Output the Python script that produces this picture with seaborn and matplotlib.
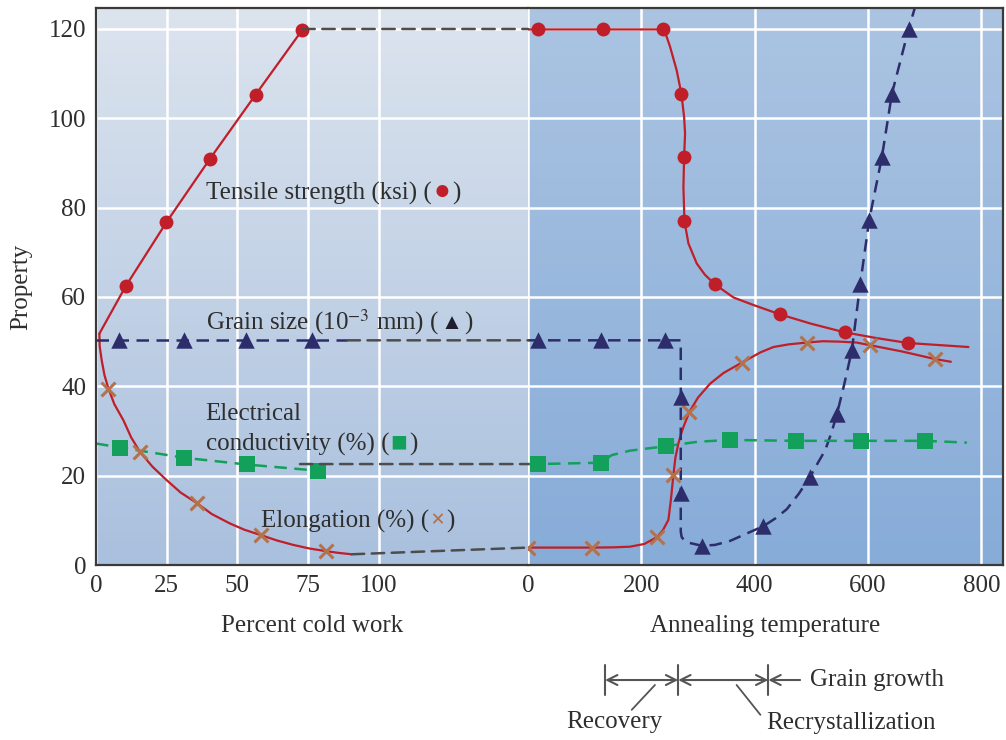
"""
Cold work and annealing: property changes (recreated figure)
"""
import matplotlib
matplotlib.use('Agg')
import matplotlib.pyplot as plt
import matplotlib.transforms as mtransforms
from matplotlib.colors import LinearSegmentedColormap
from matplotlib.patches import ConnectionPatch
import seaborn as sns
import numpy as np

# ---------------- data ----------------
# left panel: percent cold work
cw_tensile_x = [1.2, 10.5, 24.9, 40.4, 56.5, 72.9]
cw_tensile_y = [51.8, 62.4, 76.7, 91.0, 105.3, 119.7]

cw_elong_x = [1.2, 1.3, 2.0, 3.0, 4.4, 6.5, 9.7, 12.5, 15.6, 20.0, 25.0, 30.0,
              35.6, 41.0, 47.4, 52.5, 58.3, 64.0, 69.8, 75.5, 81.4, 86.0, 90.5]
cw_elong_y = [51.8, 49.0, 45.9, 42.5, 39.5, 36.0, 32.4, 28.5, 25.3, 22.0, 19.0, 16.2,
              13.9, 11.4, 9.3, 7.9, 6.7, 5.5, 4.5, 3.7, 3.1, 2.7, 2.4]
cw_elong_mx = [4.4, 15.6, 35.6, 58.3, 81.4]
cw_elong_my = [39.5, 25.3, 13.9, 6.7, 3.1]

cw_grain_x = [0, 89.0]
cw_grain_y = [50.3, 50.3]
cw_grain_mx = [8.1, 31.0, 53.2, 76.3]
cw_grain_my = [50.3, 50.3, 50.3, 50.3]

cw_cond_x = [0, 8.5, 31.3, 53.3, 78.7]
cw_cond_y = [27.2, 26.3, 24.0, 22.5, 21.1]

# dashed grey links from the cold-work side to the start of annealing
link_from_x = [73.0, 89.0, 72.2, 90.5]
link_from_y = [120.0, 50.3, 22.6, 2.4]
link_to_y = [120.0, 50.3, 22.6, 3.9]

# right panel: annealing temperature
an_tensile_x = [0, 18.2, 131.8, 237.7, 244.0, 250.7, 262.4, 270.6, 275.4, 277.1,
                275.4, 274.2, 276.0, 283.0, 297.7, 312.0, 330.0, 362.4, 397.8,
                444.8, 500.0, 558.4, 615.0, 670.2, 777.0]
an_tensile_y = [119.9, 119.9, 119.9, 119.9, 118.5, 116.0, 110.7, 105.5, 100.3, 96.6,
                91.3, 84.6, 77.0, 72.0, 67.5, 65.0, 62.8, 59.9, 58.2,
                56.1, 54.0, 52.1, 50.8, 49.7, 48.8]
an_tensile_mx = [18.2, 131.8, 237.7, 270.6, 275.4, 276.0, 330.0, 444.8, 558.4, 670.2]
an_tensile_my = [119.9, 119.9, 119.9, 105.5, 91.3, 77.0, 62.8, 56.1, 52.1, 49.7]

an_grain_x = [0, 269.5, 269.5, 271.0, 275.0, 283.0, 307.0, 330.0, 356.6, 385.0,
              415.4, 436.0, 456.6, 478.0, 497.8, 512.0, 524.3, 535.0, 544.9,
              558.0, 571.4, 586.0, 601.9, 624.3, 642.0, 671.3, 690.0]
an_grain_y = [50.3, 50.3, 7.5, 6.3, 5.6, 5.0, 4.3, 4.5, 5.4, 7.0,
              8.7, 10.4, 12.5, 16.0, 19.8, 23.0, 25.7, 29.5, 33.7,
              40.5, 48.1, 62.8, 77.2, 91.3, 105.5, 119.9, 128.0]
an_grain_mx = [18.2, 128.9, 241.8, 269.5, 269.5, 307.0, 415.4, 497.8, 544.9,
               571.4, 586.0, 601.9, 624.3, 642.0, 671.3]
an_grain_my = [50.3, 50.3, 50.3, 37.6, 16.2, 4.3, 8.7, 19.8, 33.7,
               48.1, 62.8, 77.2, 91.3, 105.5, 119.9]

an_elong_x = [0, 112.4, 150.0, 180.0, 205.0, 227.2, 238.0, 247.7, 252.0, 256.5,
              260.0, 265.3, 270.0, 274.2, 284.8, 300.0, 321.3, 345.0, 377.2,
              410.0, 433.0, 460.0, 492.0, 520.0, 550.7, 580.0, 603.7, 660.0,
              718.4, 746.0]
an_elong_y = [3.9, 3.9, 3.95, 4.1, 4.7, 6.2, 7.8, 10.1, 14.5, 20.1,
              24.0, 27.2, 29.3, 30.9, 34.3, 37.5, 40.6, 43.0, 45.3,
              47.6, 48.8, 49.4, 49.8, 50.1, 50.0, 49.8, 49.2, 47.8,
              46.1, 45.5]
an_elong_mx = [0, 112.4, 227.2, 256.5, 284.8, 377.2, 492.0, 603.7, 718.4]
an_elong_my = [3.9, 3.9, 6.2, 20.1, 34.3, 45.3, 49.8, 49.2, 46.1]

an_cond_x = [0, 18.2, 128.9, 147.7, 180.0, 243.6, 300.0, 356.6, 473.0, 587.8,
             700.8, 774.4]
an_cond_y = [22.6, 22.6, 22.9, 24.6, 25.6, 26.6, 27.6, 28.0, 27.8, 27.8,
             27.8, 27.4]
an_cond_mx = [18.2, 128.9, 243.6, 356.6, 473.0, 587.8, 700.8]
an_cond_my = [22.6, 22.9, 26.6, 28.0, 27.8, 27.8, 27.8]

stage_bounds = [136, 265, 424]          # recovery | recrystallization | grain growth
cw_ticks = [0, 25, 50, 75, 100]
an_ticks = [0, 200, 400, 600, 800]
y_ticks = [0, 20, 40, 60, 80, 100, 120]

# ---------------- style ----------------
RED = '#c01e28'
NAVY = '#2d2d6b'
GREEN = '#12a05a'
BROWN = '#b5714a'
LINK = '#4d4d4d'
INK = '#2e2e2e'
FS = 18

sns.set_theme(style='white')
plt.rcParams['font.family'] = ['Liberation Serif', 'DejaVu Serif']
plt.rcParams['mathtext.fontset'] = 'stix'
plt.rcParams['text.color'] = INK
plt.rcParams['axes.labelcolor'] = INK
plt.rcParams['xtick.color'] = INK
plt.rcParams['ytick.color'] = INK

W, H = 1006, 740
fig = plt.figure(figsize=(W / 100, H / 100), dpi=100)
bottom, height = 1 - 565 / H, 557 / H
ax1 = fig.add_axes([96 / W, bottom, (528 - 96) / W, height])
ax2 = fig.add_axes([528 / W, bottom, (1003 - 528) / W, height])


def gradient(ax, top, bot):
    cmap = LinearSegmentedColormap.from_list('bg', [top, bot])
    ax.imshow(np.linspace(0, 1, 256).reshape(-1, 1), cmap=cmap, extent=[0, 1, 0, 1],
              transform=ax.transAxes, aspect='auto', zorder=0)


gradient(ax1, '#dce4ee', '#a9c0de')
gradient(ax2, '#abc4e2', '#87acd8')

dash = (0, (5, 3))
MS = dict(o=100, x=100, s=120)
MS['^'] = 140


def series(ax, lx, ly, mx, my, color, marker, mcolor=None, ls='-', lw=1.6):
    sns.lineplot(x=lx, y=ly, ax=ax, color=color, lw=lw, linestyle=ls,
                 estimator=None, sort=False)
    kw = dict(linewidth=2.2) if marker == 'x' else dict(linewidth=0)
    sns.scatterplot(x=mx, y=my, ax=ax, color=mcolor or color, marker=marker,
                    s=MS[marker], zorder=4, **kw)


# left panel
series(ax1, cw_tensile_x, cw_tensile_y, cw_tensile_x[1:], cw_tensile_y[1:], RED, 'o')
series(ax1, cw_elong_x, cw_elong_y, cw_elong_mx, cw_elong_my, RED, 'x', BROWN)
series(ax1, cw_grain_x, cw_grain_y, cw_grain_mx, cw_grain_my, NAVY, '^', ls=dash, lw=1.8)
series(ax1, cw_cond_x, cw_cond_y, cw_cond_x[1:], cw_cond_y[1:], GREEN, 's', ls=dash, lw=1.8)

# right panel
series(ax2, an_tensile_x, an_tensile_y, an_tensile_mx, an_tensile_my, RED, 'o')
series(ax2, an_elong_x, an_elong_y, an_elong_mx, an_elong_my, RED, 'x', BROWN)
series(ax2, an_grain_x, an_grain_y, an_grain_mx, an_grain_my, NAVY, '^', ls=dash, lw=1.8)
series(ax2, an_cond_x, an_cond_y, an_cond_mx, an_cond_my, GREEN, 's', ls=dash, lw=1.8)

# axes limits, ticks, grid
for ax, xmax, ticks in [(ax1, 152.9, cw_ticks), (ax2, 838, an_ticks)]:
    ax.set_xlim(0, xmax)
    ax.set_ylim(0, 124.7)
    ax.set_xticks(ticks)
    ax.set_yticks(y_ticks)
    ax.grid(True, color='white', lw=1.8)
    ax.tick_params(axis='both', direction='in', length=11, width=1.6,
                   color='#444444', labelsize=FS, pad=7)
    for sp in ax.spines.values():
        sp.set_color('#3a3a3a')
        sp.set_linewidth(1.6)
ax1.spines['right'].set_visible(False)
ax2.spines['left'].set_visible(False)
ax2.tick_params(axis='y', left=False, labelleft=False)
ax1.set_xlabel('Percent cold work', fontsize=FS, labelpad=13)
ax2.set_xlabel('Annealing temperature', fontsize=FS, labelpad=13)
ax1.set_ylabel('Property', fontsize=FS, labelpad=12)

# grey dashed links across the two panels
for x0, y0, y1 in zip(link_from_x, link_from_y, link_to_y):
    con = ConnectionPatch(xyA=(x0, y0), coordsA=ax1.transData,
                          xyB=(0, y1), coordsB=ax2.transData,
                          color=LINK, lw=1.8, linestyle=dash, zorder=3)
    fig.add_artist(con)


def colored_label(ax, x, y, parts):
    renderer = fig.canvas.get_renderer()
    dx = 0.0
    for s, c, fs in parts:
        tr = mtransforms.offset_copy(ax.transData, fig=fig, x=dx, y=0, units='dots')
        t = ax.text(x, y, s, color=c, fontsize=fs, transform=tr,
                    ha='left', va='baseline', zorder=6,
                    fontweight='bold' if s == '×' else 'normal')
        dx += t.get_window_extent(renderer).width + 1.5


colored_label(ax1, 39.1, 81.9, [('Tensile strength (ksi) (', INK, FS),
                                ('●', RED, 20), (')', INK, FS)])
colored_label(ax1, 38.8, 52.8, [('Grain size (10$^{-3}$ mm) (', INK, FS),
                                ('▲', '#1e1e2e', 16), (')', INK, FS)])
ax1.text(38.8, 32.4, 'Electrical', fontsize=FS, ha='left', va='baseline', zorder=6)
colored_label(ax1, 38.8, 25.6, [('conductivity (%) (', INK, FS),
                                ('■', GREEN, 20), (')', INK, FS)])
colored_label(ax1, 58.3, 8.4, [('Elongation (%) (', INK, FS),
                               ('×', BROWN, FS), (')', INK, FS)])

# stage bracket under the annealing axis
trans = mtransforms.blended_transform_factory(ax2.transData, ax2.transAxes)
y_bar = -0.2065
arrow = dict(arrowstyle='<->,head_length=0.6,head_width=0.3', color='#555555',
             lw=1.5, shrinkA=0, shrinkB=0)
for a, b in zip(stage_bounds[:-1], stage_bounds[1:]):
    ax2.annotate('', xy=(a, y_bar), xytext=(b, y_bar), xycoords=trans,
                 textcoords=trans, arrowprops=arrow, annotation_clip=False)
ax2.annotate('', xy=(stage_bounds[-1], y_bar), xytext=(480, y_bar), xycoords=trans,
             textcoords=trans, annotation_clip=False,
             arrowprops=dict(arrow, arrowstyle='->,head_length=0.6,head_width=0.3'))
for b in stage_bounds:
    ax2.plot([b, b], [-0.1795, -0.2334], transform=trans, color='#555555',
             lw=1.5, clip_on=False)
ax2.text(497, y_bar, 'Grain growth', transform=trans, fontsize=FS,
         ha='left', va='center')
ax2.text(153, -0.282, 'Recovery', transform=trans, fontsize=FS,
         ha='center', va='center')
ax2.plot([224, 183], [-0.2154, -0.260], transform=trans, color='#555555',
         lw=1.3, clip_on=False)
ax2.text(420, -0.2837, 'Recrystallization', transform=trans, fontsize=FS,
         ha='left', va='center')
ax2.plot([368, 410], [-0.2154, -0.269], transform=trans, color='#555555',
         lw=1.3, clip_on=False)

fig.savefig('out.png', dpi=100)
